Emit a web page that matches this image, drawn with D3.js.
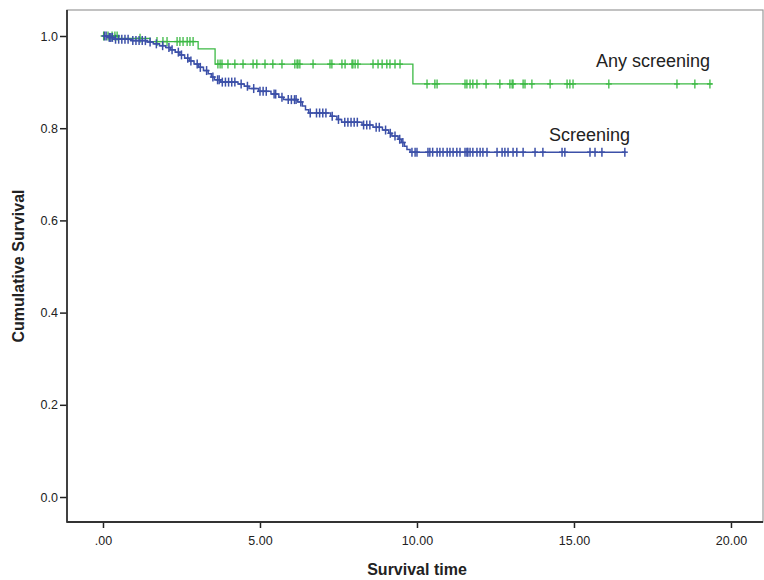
<!DOCTYPE html>
<html><head><meta charset="utf-8">
<script src="https://cdn.jsdelivr.net/npm/d3@7"></script>
<style>body{margin:0;background:#fff}svg{display:block}text{font-family:Arial,"Liberation Sans",sans-serif}</style>
</head><body><svg id="c" width="764" height="580"></svg>
<script>
// ---- data ----
const xTicks = [0, 5, 10, 15, 20];
const yTicks = [0, 0.2, 0.4, 0.6, 0.8, 1.0];
const seriesNames = ["Any screening", "Screening"];
// event times and survival after each event
const anyEventT = [0.5, 1.5, 3.03, 3.57, 9.87];
const anyEventS = [0.995, 0.988, 0.972, 0.939, 0.896];
const anyEnd = 19.4;
const anyCensor = [0.02, 0.16, 0.29, 0.38, 0.45, 1.18, 1.72, 1.91, 2.04, 2.36, 2.45, 2.55, 2.68, 2.77, 2.87,
  3.66, 3.73, 3.79, 3.98, 4.2, 4.46, 4.78, 4.9, 5.16, 5.41, 5.7, 6.11, 6.18, 6.21, 6.27, 6.69, 7.23, 7.29, 7.61, 7.71,
  7.93, 7.96, 8.03, 8.12, 8.6, 8.76, 8.89, 9.04, 9.14, 9.3, 9.46,
  10.32, 10.57, 10.64, 11.53, 11.59, 11.69, 11.78, 11.91, 12.2, 12.64, 12.96, 13.03, 13.06, 13.38, 13.44, 13.66,
  14.24, 14.78, 14.87, 14.97, 16.11, 18.28, 18.85, 19.33];
const scrEventT = [0.15, 0.35, 0.9, 1.4, 1.6, 1.8, 2.0, 2.15, 2.3, 2.45, 2.6, 2.75, 2.9, 3.05, 3.2, 3.35, 3.45, 3.55,
  3.75, 4.3, 4.5, 4.65, 4.95, 5.35, 5.6, 5.75, 6.2, 6.35, 6.45, 6.55, 7.25, 7.45, 7.6, 8.25, 8.6, 8.9, 9.1, 9.2,
  9.4, 9.5, 9.6, 9.68, 9.78];
const scrEventS = [0.997, 0.993, 0.990, 0.987, 0.983, 0.979, 0.975, 0.970, 0.965, 0.959, 0.952, 0.946, 0.939, 0.932,
  0.925, 0.918, 0.911, 0.905, 0.900, 0.896, 0.891, 0.886, 0.880, 0.874, 0.867, 0.862, 0.857, 0.848, 0.840, 0.833,
  0.826, 0.819, 0.813, 0.807, 0.802, 0.796, 0.789, 0.783, 0.776, 0.769, 0.761, 0.754, 0.748];
const scrEnd = 16.65;
const scrCensor = [0.05, 0.1, 0.2, 0.25, 0.3, 0.4, 0.5, 0.6, 0.7, 0.8, 0.95, 1.05, 1.15, 1.25, 1.35, 1.5, 1.7, 1.9,
  2.1, 2.2, 2.4, 2.5, 2.7, 2.8, 3.0, 3.1, 3.3, 3.5, 3.65, 3.7, 3.8, 3.9, 4.0, 4.1, 4.2, 4.4, 4.6, 4.8, 5.0, 5.1,
  5.2, 5.45, 5.5, 5.7, 5.9, 6.0, 6.1, 6.15, 6.3, 6.6, 6.8, 6.9, 7.0, 7.1, 7.3, 7.5, 7.7, 7.8, 7.9, 8.0, 8.1, 8.3,
  8.4, 8.5, 8.7, 8.8, 9.0, 9.15, 9.3, 9.45, 9.55,
  9.84, 9.94, 10.0, 10.35, 10.41, 10.5, 10.64, 10.73, 10.83, 10.96, 11.05, 11.15, 11.27, 11.37, 11.53, 11.59,
  11.62, 11.69, 11.78, 11.91, 12.01, 12.1, 12.23, 12.55, 12.71, 12.8, 12.9, 13.06, 13.18, 13.38, 13.76, 14.01,
  14.62, 14.71, 15.51, 15.67, 15.89, 16.62];
const colors = ["#3cb944", "#3c50a8"];

// ---- chart ----
const svg = d3.select("#c");
const L = 67, R = 763, T = 10, B = 522;
const x = d3.scaleLinear().domain([-1.146, 21.02]).range([L, R]);
const y = d3.scaleLinear().domain([-0.0542, 1.0564]).range([B, T]);

svg.append("rect").attr("x", L).attr("y", T).attr("width", R - L).attr("height", B - T)
  .attr("fill", "#fff").attr("stroke", "#999").attr("stroke-width", 1.2);

function survAt(ts, ss, t) {
  let s = 1;
  for (let i = 0; i < ts.length; i++) if (ts[i] <= t) s = ss[i];
  return s;
}
function draw(ts, ss, end, cens, color, sw) {
  const pts = [[0, 1]];
  ts.forEach((t, i) => pts.push([t, ss[i]]));
  pts.push([end, ss[ss.length - 1]]);
  const line = d3.line().x(d => x(d[0])).y(d => y(d[1])).curve(d3.curveStepAfter);
  svg.append("path").attr("d", line(pts)).attr("fill", "none").attr("stroke", color).attr("stroke-width", sw);
  const g = svg.append("g").attr("stroke", color).attr("stroke-width", sw);
  cens.forEach(t => {
    const cx = x(t), cy = y(survAt(ts, ss, t));
    g.append("line").attr("x1", cx).attr("x2", cx).attr("y1", cy - 4.5).attr("y2", cy + 4.5);
    g.append("line").attr("x1", cx - 3).attr("x2", cx + 3).attr("y1", cy).attr("y2", cy);
  });
}
draw(anyEventT, anyEventS, anyEnd, anyCensor, colors[0], 1.3);
draw(scrEventT, scrEventS, scrEnd, scrCensor, colors[1], 1.5);

// axes
const yAx = svg.append("g").attr("transform", `translate(${L},0)`)
  .call(d3.axisLeft(y).tickValues(yTicks).tickFormat(d3.format(".1f")).tickSize(7).tickPadding(2));
const xAx = svg.append("g").attr("transform", `translate(0,${B})`)
  .call(d3.axisBottom(x).tickValues(xTicks).tickFormat(d => d === 0 ? ".00" : d.toFixed(2)).tickSize(6).tickPadding(8));
[yAx, xAx].forEach(a => {
  a.select(".domain").remove();
  a.selectAll("line").attr("stroke", "#222").attr("stroke-width", 1.5);
  a.selectAll("text").attr("font-size", 12.5).attr("fill", "#222").attr("font-family", "Arial, 'Liberation Sans', sans-serif");
});
svg.append("line").attr("x1", L).attr("x2", L).attr("y1", T).attr("y2", B + 0.75).attr("stroke", "#333").attr("stroke-width", 1.8);
svg.append("line").attr("x1", L).attr("x2", R).attr("y1", B).attr("y2", B).attr("stroke", "#333").attr("stroke-width", 1.8);

// titles
svg.append("text").attr("x", 417).attr("y", 575).attr("text-anchor", "middle")
  .attr("font-size", 16).attr("font-weight", "bold").attr("fill", "#222").text("Survival time");
svg.append("text").attr("transform", "translate(24,266) rotate(-90)").attr("text-anchor", "middle")
  .attr("font-size", 16).attr("font-weight", "bold").attr("fill", "#222").text("Cumulative Survival");

// series labels
svg.append("text").attr("x", 596).attr("y", 67).attr("font-size", 18).attr("fill", "#222").text(seriesNames[0]);
svg.append("text").attr("x", 549).attr("y", 141).attr("font-size", 18).attr("fill", "#222").text(seriesNames[1]);
</script></body></html>
